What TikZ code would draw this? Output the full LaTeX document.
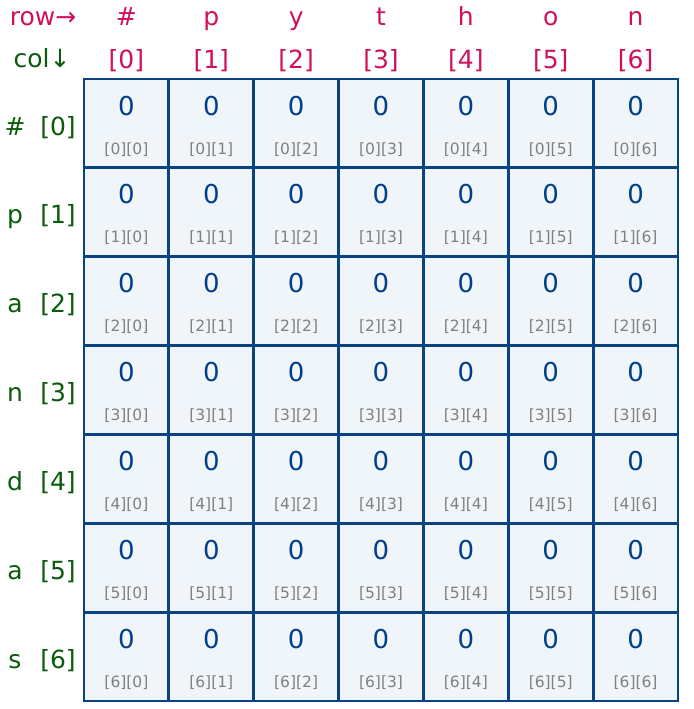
\documentclass[tikz,border=0pt]{standalone}
\usepackage{fontspec}
\setmainfont{DejaVu Sans}
\definecolor{hdr}{HTML}{D0105C}
\definecolor{lbl}{HTML}{0A5C0A}
\definecolor{val}{HTML}{00408A}
\definecolor{gridc}{HTML}{0A4382}
\definecolor{cellbg}{HTML}{F0F5FA}
\definecolor{idx}{HTML}{808080}
\begin{document}
\begin{tikzpicture}[x=1pt,y=-1pt,
  hdrtext/.style={text=hdr,font=\fontsize{25}{30}\selectfont,anchor=base,inner sep=0pt},
  lbltext/.style={text=lbl,font=\fontsize{25}{30}\selectfont,anchor=base,inner sep=0pt},
  valtext/.style={text=val,font=\fontsize{26}{31}\selectfont,anchor=base,inner sep=0pt},
  idxtext/.style={text=idx,font=\fontsize{15.5}{18}\selectfont,anchor=base,inner sep=0pt},
  cellbox/.style={fill=cellbg,minimum width=84.86pt,minimum height=88.86pt,inner sep=0pt,outer sep=0pt},
  gridline/.style={draw=gridc,line width=2.8pt}]
\useasboundingbox (0,0) rectangle (693,709);
\fill[white] (0,0) rectangle (693,709);
\node[hdrtext] (rowlbl) at (43,26) {row→};
\node[lbltext] (collbl) at (42,67) {col↓};
\foreach \c/\ch in {0/\#,1/p,2/y,3/t,4/h,5/o,6/n}{
  \pgfmathsetmacro{\cx}{84+84.86*\c+42.43}
  \node[hdrtext] (ch\c) at (\cx,26) {\ch};
  \node[hdrtext] (ci\c) at (\cx,68) {[\c]};
}
\foreach \r/\rh in {0/\#,1/p,2/a,3/n,4/d,5/a,6/s}{
  \pgfmathsetmacro{\ry}{79+88.86*\r}
  \node[lbltext] (rh\r) at (15,\ry+56) {\rh};
  \node[lbltext] (ri\r) at (58,\ry+56) {[\r]};
  \foreach \c in {0,...,6}{
    \pgfmathsetmacro{\cx}{84+84.86*\c+42.43}
    \node[cellbox] (cell\r\c) at (\cx,\ry+44.43) {};
  }
}
\foreach \r in {0,...,6}{
  \foreach \c in {0,...,6}{
    \draw[gridline] (cell\r\c.north west) rectangle (cell\r\c.south east);
  }
}
\foreach \r in {0,...,6}{
  \pgfmathsetmacro{\ry}{79+88.86*\r}
  \foreach \c in {0,...,6}{
    \pgfmathsetmacro{\cx}{84+84.86*\c+42.43}
    \node[valtext] (v\r\c) at (\cx,\ry+36) {0};
    \node[idxtext] (i\r\c) at (\cx,\ry+75) {[\r][\c]};
  }
}
\end{tikzpicture}
\end{document}
